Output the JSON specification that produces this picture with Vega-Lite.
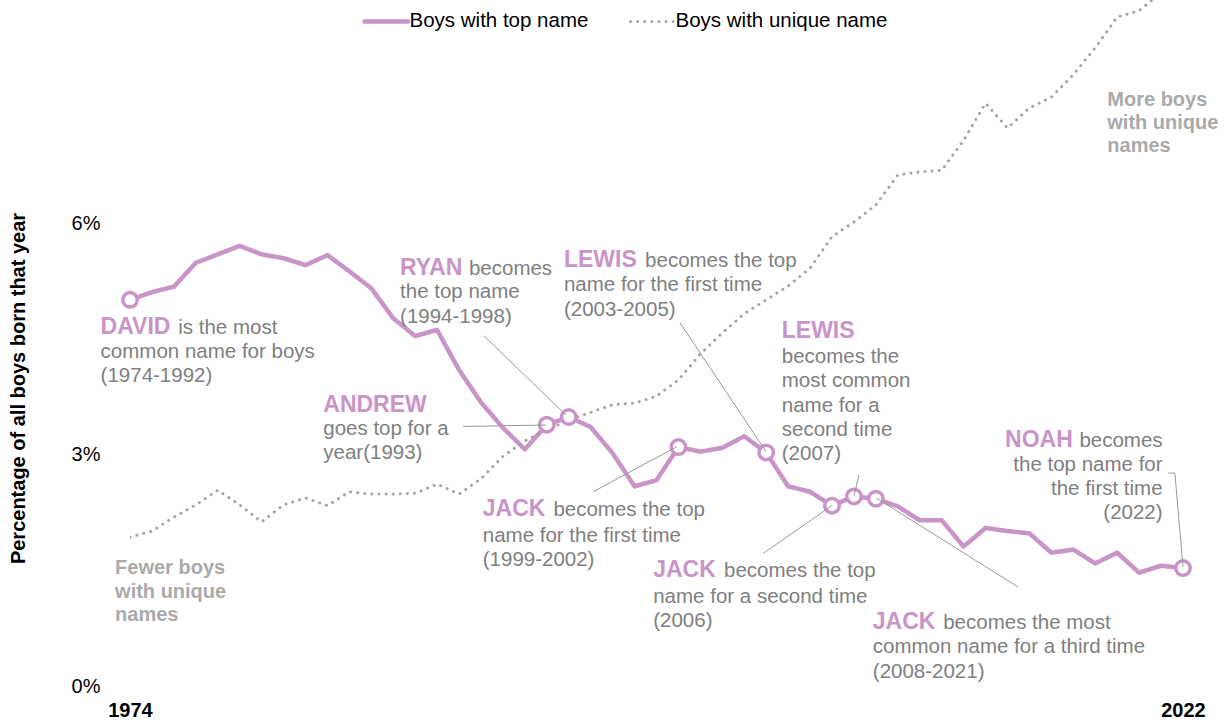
{
  "$schema": "https://vega.github.io/schema/vega-lite/v6.json",
  "width": 1053,
  "height": 686,
  "autosize": {"type": "none"},
  "padding": {"left": 130, "top": 0, "right": 46, "bottom": 34},
  "background": "white",
  "config": {"view": {"stroke": null}, "font": "Liberation Sans"},
  "datasets": {
    "lines": [
      {"year": 1974, "series": "Boys with top name", "pct": 5.01, "marked": true},
      {"year": 1975, "series": "Boys with top name", "pct": 5.11},
      {"year": 1976, "series": "Boys with top name", "pct": 5.18},
      {"year": 1977, "series": "Boys with top name", "pct": 5.49},
      {"year": 1978, "series": "Boys with top name", "pct": 5.60},
      {"year": 1979, "series": "Boys with top name", "pct": 5.71},
      {"year": 1980, "series": "Boys with top name", "pct": 5.60},
      {"year": 1981, "series": "Boys with top name", "pct": 5.55},
      {"year": 1982, "series": "Boys with top name", "pct": 5.46},
      {"year": 1983, "series": "Boys with top name", "pct": 5.59},
      {"year": 1984, "series": "Boys with top name", "pct": 5.38},
      {"year": 1985, "series": "Boys with top name", "pct": 5.16},
      {"year": 1986, "series": "Boys with top name", "pct": 4.77},
      {"year": 1987, "series": "Boys with top name", "pct": 4.54},
      {"year": 1988, "series": "Boys with top name", "pct": 4.62},
      {"year": 1989, "series": "Boys with top name", "pct": 4.10},
      {"year": 1990, "series": "Boys with top name", "pct": 3.68},
      {"year": 1991, "series": "Boys with top name", "pct": 3.35},
      {"year": 1992, "series": "Boys with top name", "pct": 3.07},
      {"year": 1993, "series": "Boys with top name", "pct": 3.39, "marked": true},
      {"year": 1994, "series": "Boys with top name", "pct": 3.49, "marked": true},
      {"year": 1995, "series": "Boys with top name", "pct": 3.36},
      {"year": 1996, "series": "Boys with top name", "pct": 3.02},
      {"year": 1997, "series": "Boys with top name", "pct": 2.59},
      {"year": 1998, "series": "Boys with top name", "pct": 2.67},
      {"year": 1999, "series": "Boys with top name", "pct": 3.10, "marked": true},
      {"year": 2000, "series": "Boys with top name", "pct": 3.04},
      {"year": 2001, "series": "Boys with top name", "pct": 3.09},
      {"year": 2002, "series": "Boys with top name", "pct": 3.24},
      {"year": 2003, "series": "Boys with top name", "pct": 3.03, "marked": true},
      {"year": 2004, "series": "Boys with top name", "pct": 2.59},
      {"year": 2005, "series": "Boys with top name", "pct": 2.52},
      {"year": 2006, "series": "Boys with top name", "pct": 2.34, "marked": true},
      {"year": 2007, "series": "Boys with top name", "pct": 2.46, "marked": true},
      {"year": 2008, "series": "Boys with top name", "pct": 2.43, "marked": true},
      {"year": 2009, "series": "Boys with top name", "pct": 2.33},
      {"year": 2010, "series": "Boys with top name", "pct": 2.15},
      {"year": 2011, "series": "Boys with top name", "pct": 2.15},
      {"year": 2012, "series": "Boys with top name", "pct": 1.81},
      {"year": 2013, "series": "Boys with top name", "pct": 2.05},
      {"year": 2014, "series": "Boys with top name", "pct": 2.01},
      {"year": 2015, "series": "Boys with top name", "pct": 1.98},
      {"year": 2016, "series": "Boys with top name", "pct": 1.73},
      {"year": 2017, "series": "Boys with top name", "pct": 1.77},
      {"year": 2018, "series": "Boys with top name", "pct": 1.59},
      {"year": 2019, "series": "Boys with top name", "pct": 1.73},
      {"year": 2020, "series": "Boys with top name", "pct": 1.47},
      {"year": 2021, "series": "Boys with top name", "pct": 1.56},
      {"year": 2022, "series": "Boys with top name", "pct": 1.53, "marked": true},
      {"year": 1974, "series": "Boys with unique name", "pct": 1.93},
      {"year": 1975, "series": "Boys with unique name", "pct": 2.01},
      {"year": 1976, "series": "Boys with unique name", "pct": 2.19},
      {"year": 1977, "series": "Boys with unique name", "pct": 2.35},
      {"year": 1978, "series": "Boys with unique name", "pct": 2.54},
      {"year": 1979, "series": "Boys with unique name", "pct": 2.35},
      {"year": 1980, "series": "Boys with unique name", "pct": 2.13},
      {"year": 1981, "series": "Boys with unique name", "pct": 2.35},
      {"year": 1982, "series": "Boys with unique name", "pct": 2.44},
      {"year": 1983, "series": "Boys with unique name", "pct": 2.34},
      {"year": 1984, "series": "Boys with unique name", "pct": 2.52},
      {"year": 1985, "series": "Boys with unique name", "pct": 2.49},
      {"year": 1986, "series": "Boys with unique name", "pct": 2.49},
      {"year": 1987, "series": "Boys with unique name", "pct": 2.50},
      {"year": 1988, "series": "Boys with unique name", "pct": 2.62},
      {"year": 1989, "series": "Boys with unique name", "pct": 2.49},
      {"year": 1990, "series": "Boys with unique name", "pct": 2.69},
      {"year": 1991, "series": "Boys with unique name", "pct": 2.98},
      {"year": 1992, "series": "Boys with unique name", "pct": 3.18},
      {"year": 1993, "series": "Boys with unique name", "pct": 3.32},
      {"year": 1994, "series": "Boys with unique name", "pct": 3.45},
      {"year": 1995, "series": "Boys with unique name", "pct": 3.55},
      {"year": 1996, "series": "Boys with unique name", "pct": 3.65},
      {"year": 1997, "series": "Boys with unique name", "pct": 3.67},
      {"year": 1998, "series": "Boys with unique name", "pct": 3.76},
      {"year": 1999, "series": "Boys with unique name", "pct": 3.97},
      {"year": 2000, "series": "Boys with unique name", "pct": 4.31},
      {"year": 2001, "series": "Boys with unique name", "pct": 4.58},
      {"year": 2002, "series": "Boys with unique name", "pct": 4.83},
      {"year": 2003, "series": "Boys with unique name", "pct": 5.01},
      {"year": 2004, "series": "Boys with unique name", "pct": 5.19},
      {"year": 2005, "series": "Boys with unique name", "pct": 5.42},
      {"year": 2006, "series": "Boys with unique name", "pct": 5.83},
      {"year": 2007, "series": "Boys with unique name", "pct": 6.02},
      {"year": 2008, "series": "Boys with unique name", "pct": 6.24},
      {"year": 2009, "series": "Boys with unique name", "pct": 6.63},
      {"year": 2010, "series": "Boys with unique name", "pct": 6.67},
      {"year": 2011, "series": "Boys with unique name", "pct": 6.69},
      {"year": 2012, "series": "Boys with unique name", "pct": 7.08},
      {"year": 2013, "series": "Boys with unique name", "pct": 7.56},
      {"year": 2014, "series": "Boys with unique name", "pct": 7.24},
      {"year": 2015, "series": "Boys with unique name", "pct": 7.50},
      {"year": 2016, "series": "Boys with unique name", "pct": 7.64},
      {"year": 2017, "series": "Boys with unique name", "pct": 7.93},
      {"year": 2018, "series": "Boys with unique name", "pct": 8.28},
      {"year": 2019, "series": "Boys with unique name", "pct": 8.68},
      {"year": 2020, "series": "Boys with unique name", "pct": 8.76},
      {"year": 2021, "series": "Boys with unique name", "pct": 9.0},
      {"year": 2022, "series": "Boys with unique name", "pct": 9.1}
    ],
    "links": [
      {"year": 1990.14, "pct": 4.541, "year2": 1993.87, "pct2": 3.516},
      {"year": 1989.18, "pct": 3.367, "year2": 1992.96, "pct2": 3.386},
      {"year": 1999.07, "pct": 4.713, "year2": 2002.99, "pct2": 3.04},
      {"year": 1995.12, "pct": 2.521, "year2": 1998.93, "pct2": 3.105},
      {"year": 2007.23, "pct": 2.737, "year2": 2007.0, "pct2": 2.465},
      {"year": 2002.87, "pct": 1.722, "year2": 2005.99, "pct2": 2.339},
      {"year": 2008.04, "pct": 2.435, "year2": 2014.48, "pct2": 1.284},
      {"year": 2021.32, "pct": 2.763, "year2": 2021.63, "pct2": 2.763},
      {"year": 2021.63, "pct": 2.763, "year2": 2022.0, "pct2": 1.544}
    ],
    "notes": [
      {"role": "name", "year": 1972.66, "pct": 4.573, "label": "DAVID"},
      {"role": "body", "year": 1976.2, "pct": 4.573, "label": "is the most"},
      {"role": "body", "year": 1972.66, "pct": 4.255, "label": "common name for boys\n(1974-1992)"},
      {"role": "name", "year": 1986.31, "pct": 5.332, "label": "RYAN"},
      {"role": "body", "year": 1989.45, "pct": 5.332, "label": "becomes"},
      {"role": "body", "year": 1986.31, "pct": 5.03, "label": "the top name\n(1994-1998)"},
      {"role": "name", "year": 1993.78, "pct": 5.439, "label": "LEWIS"},
      {"role": "body", "year": 1997.48, "pct": 5.439, "label": "becomes the top"},
      {"role": "body", "year": 1993.78, "pct": 5.12, "label": "name for the first time\n(2003-2005)"},
      {"role": "name", "year": 2003.71, "pct": 4.511, "label": "LEWIS"},
      {"role": "body", "year": 2003.71, "pct": 4.19, "label": "becomes the\nmost common\nname for a\nsecond time\n(2007)"},
      {"role": "name", "year": 1982.81, "pct": 3.559, "label": "ANDREW"},
      {"role": "body", "year": 1982.81, "pct": 3.256, "label": "goes top for a\nyear(1993)"},
      {"role": "name", "year": 1990.08, "pct": 2.206, "label": "JACK"},
      {"role": "body", "year": 1993.3, "pct": 2.206, "label": "becomes the top"},
      {"role": "body", "year": 1990.08, "pct": 1.872, "label": "name for the first time\n(1999-2002)"},
      {"role": "name", "year": 1997.85, "pct": 1.41, "label": "JACK"},
      {"role": "body", "year": 2001.08, "pct": 1.41, "label": "becomes the top"},
      {"role": "body", "year": 1997.85, "pct": 1.081, "label": "name for a second time\n(2006)"},
      {"role": "name", "year": 2007.86, "pct": 0.736, "label": "JACK"},
      {"role": "body", "year": 2011.07, "pct": 0.736, "label": "becomes the most"},
      {"role": "body", "year": 2007.86, "pct": 0.424, "label": "common name for a third time\n(2008-2021)"},
      {"role": "name", "year": 2013.89, "pct": 3.105, "label": "NOAH"},
      {"role": "bodyR", "year": 2021.07, "pct": 3.105, "label": "becomes"},
      {"role": "bodyR", "year": 2021.07, "pct": 2.793, "label": "the top name for\nthe first time\n(2022)"},
      {"role": "side", "year": 1973.32, "pct": 1.449, "label": "Fewer boys\nwith unique\nnames"},
      {"role": "side", "year": 2018.55, "pct": 7.525, "label": "More boys\nwith unique\nnames"}
    ]
  },
  "layer": [
    {
      "data": {"name": "lines"},
      "transform": [{"filter": "datum.series === 'Boys with top name'"}],
      "mark": {"type": "line", "strokeWidth": 4.5, "strokeJoin": "round", "strokeCap": "round"},
      "encoding": {
        "x": {"field": "year", "type": "quantitative", "scale": {"domain": [1974, 2022], "nice": false, "zero": false},
          "axis": {"values": [1974, 2022], "format": "d", "labelFlush": false, "domain": false, "ticks": false, "tickSize": 0, "grid": false, "title": null, "labelFontSize": 20, "labelFontWeight": "bold", "labelColor": "#000", "labelPadding": 14, "labelFont": "Liberation Sans"}},
        "y": {"field": "pct", "type": "quantitative", "scale": {"domain": [0, 8.9], "nice": false, "zero": true},
          "axis": {"values": [0, 3, 6], "labelExpr": "datum.value + '%'", "domain": false, "ticks": false, "tickSize": 0, "grid": false, "labelFontSize": 20, "labelColor": "#000", "labelPadding": 30, "labelFont": "Liberation Sans", "title": "Percentage of all boys born that year", "titleFont": "Liberation Sans", "titleFontSize": 20, "titleFontWeight": "bold", "titleColor": "#000", "titleX": -112, "titleY": 388, "titleAngle": -90, "titleAlign": "center", "titleBaseline": "middle"}},
        "color": {"field": "series", "type": "nominal", "scale": {"domain": ["Boys with top name", "Boys with unique name"], "range": ["#c994c7", "#a6a6a6"]},
          "legend": {"orient": "none", "legendX": 246, "legendY": 11, "direction": "horizontal", "title": null, "symbolType": "stroke", "symbolSize": 1900, "symbolStrokeWidth": 4, "labelFontSize": 20.5, "labelFont": "Liberation Sans", "labelColor": "#000", "labelOffset": 13, "columnPadding": 35, "padding": 0, "labelLimit": 400,
            "encode": {"symbols": {"update": {"strokeCap": {"value": "round"}, "strokeWidth": {"signal": "datum.value === 'Boys with top name' ? 4.5 : 3"}}}}}},
        "strokeDash": {"field": "series", "type": "nominal", "scale": {"domain": ["Boys with top name", "Boys with unique name"], "range": [[1, 0], [0.1, 7]]},
          "legend": {"orient": "none", "legendX": 246, "legendY": 11, "direction": "horizontal", "title": null, "symbolType": "stroke", "symbolSize": 1900, "symbolStrokeWidth": 4, "labelFontSize": 20.5, "labelFont": "Liberation Sans", "labelColor": "#000", "labelOffset": 13, "columnPadding": 35, "padding": 0, "labelLimit": 400,
            "encode": {"symbols": {"update": {"strokeCap": {"value": "round"}, "strokeWidth": {"signal": "datum.value === 'Boys with top name' ? 4.5 : 3"}}}}}}
      }
    },
    {
      "data": {"name": "lines"},
      "transform": [{"filter": "datum.series === 'Boys with unique name'"}],
      "mark": {"type": "line", "strokeWidth": 3, "strokeCap": "round", "clip": true},
      "encoding": {
        "x": {"field": "year", "type": "quantitative", "scale": {"domain": [1974, 2022], "nice": false, "zero": false}},
        "y": {"field": "pct", "type": "quantitative", "scale": {"domain": [0, 8.9], "nice": false, "zero": true}},
        "color": {"field": "series", "type": "nominal", "scale": {"domain": ["Boys with top name", "Boys with unique name"], "range": ["#c994c7", "#a6a6a6"]}},
        "strokeDash": {"field": "series", "type": "nominal", "scale": {"domain": ["Boys with top name", "Boys with unique name"], "range": [[1, 0], [0.1, 7]]}}
      }
    },
    {
      "data": {"name": "lines"},
      "transform": [{"filter": "datum.marked === true"}],
      "mark": {"type": "point", "shape": "circle", "filled": true, "fill": "white", "stroke": "#c994c7", "strokeWidth": 3.5, "size": 210, "opacity": 1},
      "encoding": {
        "x": {"field": "year", "type": "quantitative", "scale": {"domain": [1974, 2022], "nice": false, "zero": false}},
        "y": {"field": "pct", "type": "quantitative", "scale": {"domain": [0, 8.9], "nice": false, "zero": true}}
      }
    },
    {
      "data": {"name": "links"},
      "mark": {"type": "rule", "color": "#999999", "strokeWidth": 1},
      "encoding": {
        "x": {"field": "year", "type": "quantitative", "scale": {"domain": [1974, 2022], "nice": false, "zero": false}},
        "y": {"field": "pct", "type": "quantitative", "scale": {"domain": [0, 8.9], "nice": false, "zero": true}},
        "x2": {"field": "year2"},
        "y2": {"field": "pct2"}
      }
    },
    {
      "data": {"name": "notes"},
      "transform": [{"filter": "datum.role === 'name'"}],
      "mark": {"type": "text", "align": "left", "baseline": "alphabetic", "font": "Liberation Sans", "fontSize": 23, "fontWeight": "bold", "color": "#c994c7"},
      "encoding": {
        "x": {"field": "year", "type": "quantitative", "scale": {"domain": [1974, 2022], "nice": false, "zero": false}},
        "y": {"field": "pct", "type": "quantitative", "scale": {"domain": [0, 8.9], "nice": false, "zero": true}},
        "text": {"field": "label", "type": "nominal"}
      }
    },
    {
      "data": {"name": "notes"},
      "transform": [{"filter": "datum.role === 'body'"}],
      "mark": {"type": "text", "align": "left", "baseline": "alphabetic", "font": "Liberation Sans", "fontSize": 20.5, "color": "#808080", "lineBreak": "\n", "lineHeight": 24.3},
      "encoding": {
        "x": {"field": "year", "type": "quantitative", "scale": {"domain": [1974, 2022], "nice": false, "zero": false}},
        "y": {"field": "pct", "type": "quantitative", "scale": {"domain": [0, 8.9], "nice": false, "zero": true}},
        "text": {"field": "label", "type": "nominal"}
      }
    },
    {
      "data": {"name": "notes"},
      "transform": [{"filter": "datum.role === 'bodyR'"}],
      "mark": {"type": "text", "align": "right", "baseline": "alphabetic", "font": "Liberation Sans", "fontSize": 20.5, "color": "#808080", "lineBreak": "\n", "lineHeight": 24.3},
      "encoding": {
        "x": {"field": "year", "type": "quantitative", "scale": {"domain": [1974, 2022], "nice": false, "zero": false}},
        "y": {"field": "pct", "type": "quantitative", "scale": {"domain": [0, 8.9], "nice": false, "zero": true}},
        "text": {"field": "label", "type": "nominal"}
      }
    },
    {
      "data": {"name": "notes"},
      "transform": [{"filter": "datum.role === 'side'"}],
      "mark": {"type": "text", "align": "left", "baseline": "alphabetic", "font": "Liberation Sans", "fontSize": 20, "fontWeight": "bold", "color": "#aaaaaa", "lineBreak": "\n", "lineHeight": 23.2},
      "encoding": {
        "x": {"field": "year", "type": "quantitative", "scale": {"domain": [1974, 2022], "nice": false, "zero": false}},
        "y": {"field": "pct", "type": "quantitative", "scale": {"domain": [0, 8.9], "nice": false, "zero": true}},
        "text": {"field": "label", "type": "nominal"}
      }
    }
  ]
}
